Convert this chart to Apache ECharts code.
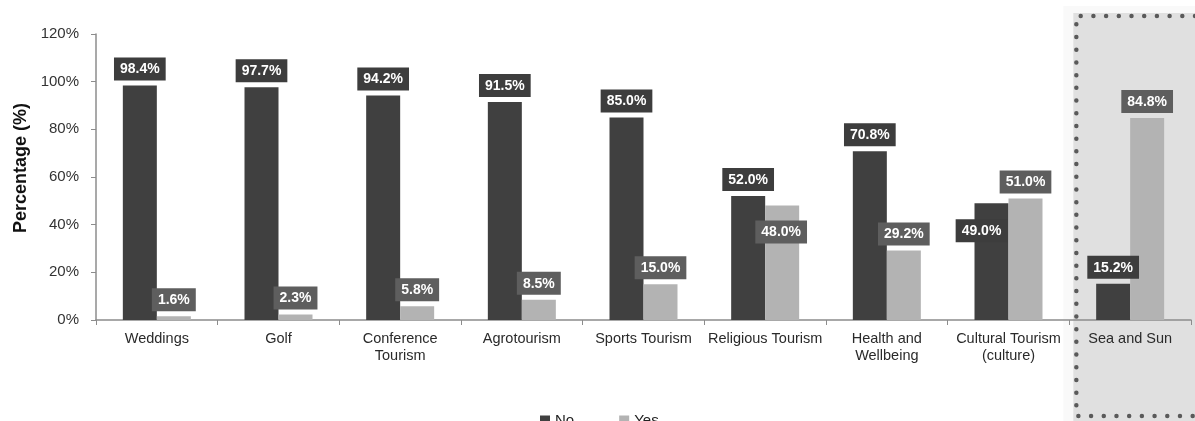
<!DOCTYPE html>
<html>
<head>
<meta charset="utf-8">
<script src="https://cdn.jsdelivr.net/npm/echarts@6/dist/echarts.min.js"></script>
<style>
  html, body { margin: 0; padding: 0; background: #ffffff; }
  #chart { width: 1195px; height: 421px; }
</style>
</head>
<body>
<div id="chart"></div>
<script>
// Tourism types and share of respondents answering No / Yes (%)
const categories = [
  'Weddings', 'Golf', 'Conference\nTourism', 'Agrotourism', 'Sports Tourism',
  'Religious Tourism', 'Health and\nWellbeing', 'Cultural Tourism\n(culture)', 'Sea and Sun'
];
const noValues  = [98.4, 97.7, 94.2, 91.5, 85.0, 52.0, 70.8, 49.0, 15.2];
const yesValues = [1.6, 2.3, 5.8, 8.5, 15.0, 48.0, 29.2, 51.0, 84.8];
const yTicks = [0, 20, 40, 60, 80, 100, 120];
const highlighted = 'Sea and Sun';

const FONT = '"Liberation Sans", Arial, sans-serif';
const NO_COLOR = '#404040';
const YES_COLOR = '#b3b3b3';

// Labels that would collide with the neighbouring bar sit just inside the bar top
const labelNudges = {
  no:  { 7: { position: 'insideTop', distance: 16, offset: [-10, 0] } },
  yes: { 5: { position: 'insideTop', distance: 15, offset: [-1, 0] } }
};

function valueLabel(bg) {
  return {
    show: true,
    position: 'top',
    distance: 5,
    formatter: p => p.value.toFixed(1) + '%',
    color: '#ffffff',
    fontFamily: FONT,
    fontWeight: 'bold',
    fontSize: 14,
    backgroundColor: bg,
    padding: [5, 6, 4, 6]
  };
}

function buildData(values, nudges) {
  return values.map((v, i) => nudges[i] ? { value: v, label: nudges[i] } : v);
}

const chart = echarts.init(document.getElementById('chart'), null, { renderer: 'canvas' });

chart.setOption({
  animation: false,
  backgroundColor: '#ffffff',
  grid: { left: 96, right: 4, top: 34, bottom: 101, containLabel: false },
  legend: {
    data: ['No', 'Yes'],
    left: 535,
    top: 408,
    icon: 'rect',
    itemWidth: 10,
    itemHeight: 10,
    itemGap: 45,
    textStyle: { fontFamily: FONT, fontSize: 15, color: '#222' }
  },
  xAxis: {
    type: 'category',
    data: categories,
    axisLine: { lineStyle: { color: '#8c8c8c', width: 1.5 } },
    axisTick: { show: true, length: 5, alignWithLabel: false, lineStyle: { color: '#8c8c8c' } },
    axisLabel: {
      interval: 0,
      margin: 10,
      fontFamily: FONT,
      fontSize: 14.5,
      lineHeight: 17,
      color: '#2a2a2a'
    }
  },
  yAxis: {
    type: 'value',
    min: yTicks[0],
    max: yTicks[yTicks.length - 1],
    interval: yTicks[1] - yTicks[0],
    name: 'Percentage (%)',
    nameLocation: 'middle',
    nameGap: 65,
    nameTextStyle: {
      fontFamily: FONT, fontSize: 18, fontWeight: 'bold', color: '#111',
      padding: [0, 0, 0, 18]
    },
    axisLine: { show: true, lineStyle: { color: '#8c8c8c', width: 1.5 } },
    axisTick: { show: true, length: 5, lineStyle: { color: '#8c8c8c' } },
    splitLine: { show: false },
    axisLabel: {
      formatter: '{value}%',
      margin: 17,
      fontFamily: FONT,
      fontSize: 15,
      color: '#333'
    }
  },
  series: [
    {
      name: 'No',
      type: 'bar',
      barWidth: 34,
      barGap: '0%',
      itemStyle: { color: NO_COLOR },
      label: valueLabel('#3d3d3d'),
      data: buildData(noValues, labelNudges.no),
      z: 3
    },
    {
      name: 'Yes',
      type: 'bar',
      barWidth: 34,
      barGap: '0%',
      itemStyle: { color: YES_COLOR },
      label: valueLabel('#5e5e5e'),
      data: buildData(yesValues, labelNudges.yes),
      z: 3
    }
  ]
});

// Shaded, dotted frame around the highlighted category, reaching past the plot area
(function drawHighlight() {
  const idx = categories.indexOf(highlighted);
  const c0 = chart.convertToPixel({ xAxisIndex: 0 }, idx);
  const c1 = chart.convertToPixel({ xAxisIndex: 0 }, idx - 1);
  const band = c0 - c1;
  const bandLeft = c0 - band / 2;
  const W = chart.getWidth(), H = chart.getHeight();
  const top = 16, bottom = H - 5, dotX = bandLeft + 7;
  const dots = { stroke: '#5a5a5a', lineWidth: 4.5, lineCap: 'round', lineDash: [0, 12.7], fill: null };
  chart.setOption({
    graphic: [
      { type: 'rect', z: -11, silent: true,
        shape: { x: bandLeft - 6, y: top - 10, width: W, height: H },
        style: { fill: '#f9f9f9' } },
      { type: 'rect', z: -10, silent: true,
        shape: { x: dotX - 3, y: top - 3, width: W, height: H },
        style: { fill: '#e0e0e0' } },
      { type: 'polyline', z: 10, silent: true,
        shape: { points: [[W, top], [dotX, top], [dotX, bottom], [W, bottom]] },
        style: dots }
    ]
  });
})();
</script>
</body>
</html>
